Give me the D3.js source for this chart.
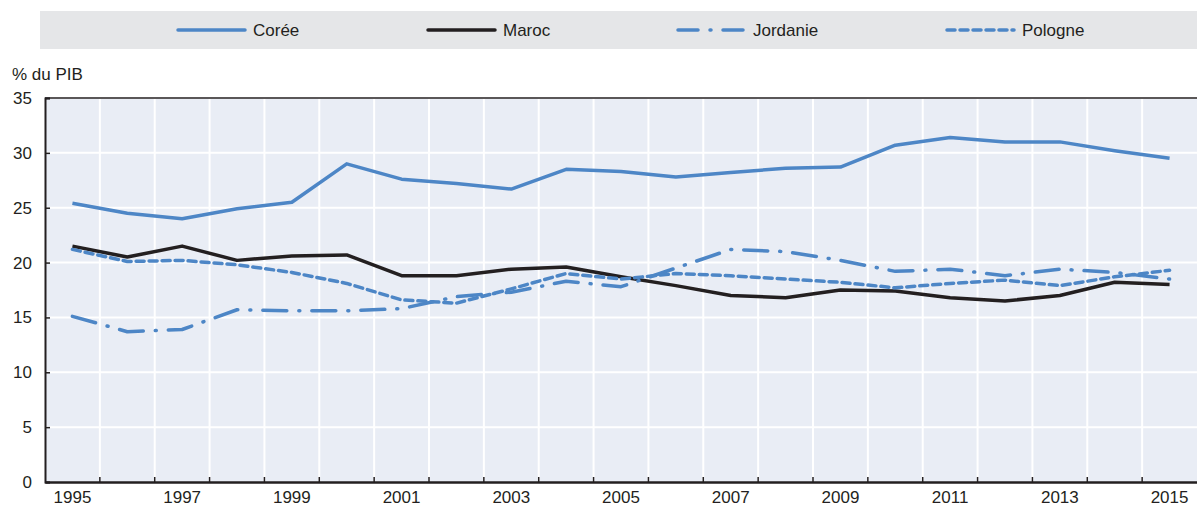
<!DOCTYPE html>
<html>
<head>
<meta charset="utf-8">
<script src="https://cdn.jsdelivr.net/npm/d3@7"></script>
<style>
  body { margin: 0; background: #fff; }
  svg text { font-family: "Liberation Sans Narrow", "Arial Narrow", "Liberation Sans", Arial, sans-serif; fill: #231f20; }
</style>
</head>
<body>
<svg id="chart" width="1197" height="507"></svg>
<script>
const years = d3.range(1995, 2016)
const yTicks = [0, 5, 10, 15, 20, 25, 30, 35]
const coree = [25.4, 24.5, 24.0, 24.9, 25.5, 29.0, 27.6, 27.2, 26.7, 28.5, 28.3, 27.8, 28.2, 28.6, 28.7, 30.7, 31.4, 31.0, 31.0, 30.2, 29.5]
const maroc = [21.5, 20.5, 21.5, 20.2, 20.6, 20.7, 18.8, 18.8, 19.4, 19.6, 18.7, 17.9, 17.0, 16.8, 17.5, 17.4, 16.8, 16.5, 17.0, 18.2, 18.0]
const jordanie = [15.1, 13.7, 13.9, 15.7, 15.6, 15.6, 15.8, 16.9, 17.3, 18.3, 17.8, 19.5, 21.2, 21.0, 20.2, 19.2, 19.4, 18.8, 19.4, 19.1, 18.5]
const pologne = [21.2, 20.1, 20.2, 19.8, 19.1, 18.1, 16.6, 16.3, 17.6, 19.0, 18.5, 19.0, 18.8, 18.5, 18.2, 17.7, 18.1, 18.4, 17.9, 18.7, 19.3]

const blue = "#4d86c6"
const black = "#231f20"

const series = [
  { name: "Corée", values: coree, color: blue, dash: null, legendDash: null, lx: 178 },
  { name: "Maroc", values: maroc, color: black, dash: null, legendDash: null, lx: 428 },
  { name: "Jordanie", values: jordanie, color: blue, dash: "24,12,1,12", legendDash: "20,12,1,12", lx: 678 },
  { name: "Pologne", values: pologne, color: blue, dash: "8,5", legendDash: "8,5", lx: 947 }
]

const svg = d3.select("#chart")
const margin = { left: 45, right: 0, top: 98, bottom: 25 }
const width = 1197, height = 507

const x = d3.scaleBand().domain(years).range([margin.left, width - margin.right])
const y = d3.scaleLinear().domain([0, 35]).range([height - margin.bottom, margin.top])

// legend
svg.append("rect")
  .attr("x", 40).attr("y", 11).attr("width", width - 40).attr("height", 38)
  .attr("fill", "#e5e6e8")

series.forEach(s => {
  const g = svg.append("g").attr("transform", `translate(${s.lx}, 30)`)
  g.append("line")
    .attr("x1", 0).attr("x2", 67).attr("y1", 0).attr("y2", 0)
    .attr("stroke", s.color).attr("stroke-width", 3.5)
    .attr("stroke-linecap", "round")
    .attr("stroke-dasharray", s.legendDash)
  g.append("text")
    .attr("x", 75).attr("y", 6)
    .attr("font-size", 17)
    .text(s.name)
})

// plot background
svg.append("rect")
  .attr("x", margin.left).attr("y", margin.top)
  .attr("width", width - margin.left - margin.right)
  .attr("height", height - margin.bottom - margin.top)
  .attr("fill", "#e9edf5")

// horizontal grid
svg.append("g").selectAll("line")
  .data(yTicks.slice(1))
  .enter().append("line")
  .attr("x1", margin.left).attr("x2", width)
  .attr("y1", d => y(d)).attr("y2", d => y(d))
  .attr("stroke", "#fff").attr("stroke-width", 2)

// vertical grid at band boundaries
const bounds = years.slice(1).map(d => x(d))
svg.append("g").selectAll("line")
  .data(bounds)
  .enter().append("line")
  .attr("x1", d => d).attr("x2", d => d)
  .attr("y1", margin.top).attr("y2", y(0))
  .attr("stroke", "#fff").attr("stroke-width", 2)

// lines
const line = d3.line()
  .x((d, i) => x(years[i]) + x.bandwidth() / 2)
  .y(d => y(d))

series.forEach(s => {
  svg.append("path")
    .datum(s.values)
    .attr("d", line)
    .attr("fill", "none")
    .attr("stroke", s.color)
    .attr("stroke-width", 3.5)
    .attr("stroke-linecap", s.dash ? "round" : "butt")
    .attr("stroke-linejoin", "round")
    .attr("stroke-dasharray", s.dash)
})

// axes frame
svg.append("line")
  .attr("x1", margin.left).attr("x2", width)
  .attr("y1", margin.top).attr("y2", margin.top)
  .attr("stroke", black).attr("stroke-width", 1.5)

const yAxis = svg.append("g")
  .attr("transform", `translate(${margin.left},0)`)
  .call(d3.axisLeft(y).tickValues(yTicks).tickSize(-5).tickPadding(13))
yAxis.select(".domain").attr("stroke", black).attr("stroke-width", 2)
yAxis.selectAll(".tick line").attr("stroke", black).attr("stroke-width", 1.5)
yAxis.selectAll("text").attr("font-size", 17).attr("fill", black)

const xAxis = svg.append("g")
  .attr("transform", `translate(0,${y(0)})`)
  .call(d3.axisBottom(x).tickValues(years.filter(d => d % 2 === 1)).tickSize(0).tickPadding(9))
xAxis.select(".domain").attr("stroke", black).attr("stroke-width", 2.5)
xAxis.selectAll("text").attr("font-size", 17).attr("fill", black)

// tick marks at band boundaries
svg.append("g").selectAll("line")
  .data(bounds)
  .enter().append("line")
  .attr("x1", d => d).attr("x2", d => d)
  .attr("y1", y(0)).attr("y2", y(0) - 5)
  .attr("stroke", black).attr("stroke-width", 1.5)

svg.append("text")
  .attr("x", 12).attr("y", 80)
  .attr("font-size", 17)
  .text("% du PIB")
</script>
</body>
</html>
